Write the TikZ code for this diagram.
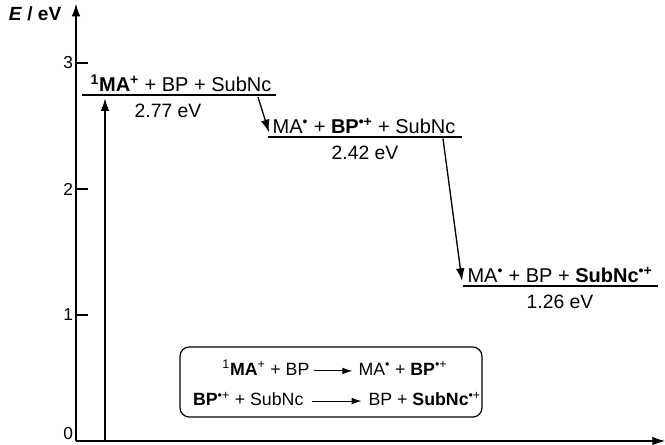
\documentclass[tikz,border=0pt]{standalone}
\usepackage{fontspec}
\setmainfont{Liberation Sans}
\usetikzlibrary{arrows.meta, positioning, fit}

\begin{document}
\begin{tikzpicture}[x=0.75pt, y=94.5pt,
    >={Latex[length=9.5pt, width=6.5pt]}, % Pfeilspitzen
    niveau/.style={line width=1.4pt},
    stufe/.style={anchor=south, inner sep=2pt, font=\fontsize{15}{17}\selectfont},
    wert/.style={anchor=north, inner sep=6.5pt, font=\fontsize{14.5}{16}\selectfont},
    rxn/.style={inner sep=1pt, text height=1.7ex, text depth=0.3ex, font=\fontsize{13.3}{15}\selectfont},
    kleinpfeil/.style={-{Latex[length=7.5pt, width=5pt]}, line width=0.75pt},
    font=\fontsize{13}{15}\selectfont]
  \useasboundingbox (-76,-0.0317) rectangle (589,3.5);
  % Achsen zeichnen
  \coordinate (O) at (0,0);
  \coordinate (xend) at (589,0);
  \coordinate (yend) at (0,3.47);
  \draw[->, line width=0.9pt] (O) -- (xend);
  \draw[->, line width=0.9pt] (O) -- (yend);
  \node[anchor=east, font=\bfseries\fontsize{14.3}{16}\selectfont] (elabel) at (-10,3.39) {\textit{E} / eV};
  % Achsen beschriften
  \foreach \y in {1,2,3} {
    \draw[line width=0.9pt] (0,\y) -- (12,\y);
    \node[anchor=east, inner sep=2pt] (t\y) at (0,\y) {\y};
  }
  \node[anchor=east, inner sep=2pt] (t0) at (0,0.06) {0};
  % Energieniveaus
  \draw[niveau] (6,2.746) coordinate (a1) -- (200,2.746) coordinate (b1);
  \draw[niveau] (192,2.413) coordinate (a2) -- (386,2.413) coordinate (b2);
  \draw[niveau] (387,1.23) coordinate (a3) -- (582,1.23) coordinate (b3);
  \node[stufe] (s1) at (105,2.746) {\textbf{\textsuperscript{1}MA\textsuperscript{+}} + BP + SubNc};
  \node[stufe] (s2) at (288,2.413) {MA\textsuperscript{•} + \textbf{BP\textsuperscript{•+}} + SubNc};
  \node[stufe] (s3) at (484,1.23) {MA\textsuperscript{•} + BP + \textbf{SubNc\textsuperscript{•+}}};
  \node[wert] (w1) at (92,2.746) {2.77 eV};
  \node[wert] (w2) at (289,2.413) {2.42 eV};
  \node[wert] (w3) at (484,1.23) {1.26 eV};
  % Anregung und Elektronentransfer
  \coordinate (hv0) at (29,0);
  \coordinate (hv1) at (29,2.72);
  \draw[->, line width=1.3pt] (hv0) -- (hv1);
  \coordinate (p1) at (182,2.73);
  \coordinate (p2) at (193,2.45);
  \draw[->, line width=1pt] (p1) -- (p2);
  \coordinate (q1) at (367,2.40);
  \coordinate (q2) at (386,1.27);
  \draw[->, line width=1pt] (q1) -- (q2);
  % Reaktionskasten
  \node[rxn, anchor=east] (r1l) at (235,0.556) {\textsuperscript{1}\textbf{MA}\textsuperscript{+} + BP};
  \node[rxn, anchor=west] (r1r) at (281,0.556) {MA\textsuperscript{•} + \textbf{BP}\textsuperscript{•+}};
  \node[rxn, anchor=east] (r2l) at (229,0.317) {\textbf{BP}\textsuperscript{•+} + SubNc};
  \node[rxn, anchor=west] (r2r) at (291,0.317) {BP + \textbf{SubNc}\textsuperscript{•+}};
  \draw[kleinpfeil, shorten <=2.5pt, shorten >=3.5pt] (r1l) -- (r1r);
  \draw[kleinpfeil, shorten <=5pt, shorten >=4pt] (r2l) -- (r2r);
  \coordinate (kl) at (104,0.19);
  \coordinate (kr) at (406,0.746);
  \node[draw, rounded corners=7pt, line width=0.9pt, inner sep=0pt, fit=(kl)(kr)] (kasten) {};
\end{tikzpicture}
\end{document}
